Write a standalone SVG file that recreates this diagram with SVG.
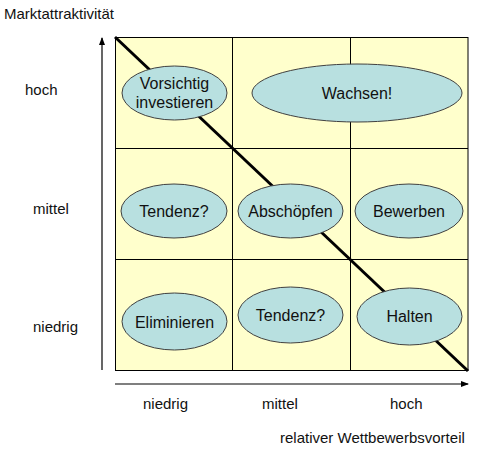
<svg xmlns="http://www.w3.org/2000/svg" width="483" height="451" viewBox="0 0 483 451">
<style>
.cell{fill:#ffffcc;stroke:#000;stroke-width:1}
.node ellipse{fill:#b8e0e0;stroke:#404040;stroke-width:1}
text{font-family:"Liberation Sans",Arial,sans-serif;fill:#111}
.nt{font-size:16px;text-anchor:middle}
.lab{font-size:15px}
.axis{stroke:#000;stroke-width:1.2;fill:none}
</style>
<defs>
<marker id="ah" markerWidth="8" markerHeight="8" refX="7" refY="4" orient="auto" markerUnits="userSpaceOnUse">
<path d="M0,1 L8,4 L0,7 Z" fill="#000"/>
</marker>
</defs>
<rect width="483" height="451" fill="#fff"/>
<g id="grid">
<rect class="cell" x="115.5" y="37.5" width="352.5" height="333"/>
<line x1="232.5" y1="37.5" x2="232.5" y2="370.5" stroke="#000"/>
<line x1="350.5" y1="37.5" x2="350.5" y2="370.5" stroke="#000"/>
<line x1="115.5" y1="148.5" x2="468" y2="148.5" stroke="#000"/>
<line x1="115.5" y1="259.5" x2="468" y2="259.5" stroke="#000"/>
</g>
<g id="connectors">
<line x1="115" y1="37" x2="468" y2="371" stroke="#000" stroke-width="3"/>
<line class="axis" x1="102" y1="370" x2="102" y2="38" marker-end="url(#ah)"/>
<line class="axis" x1="115" y1="384" x2="468" y2="384" marker-end="url(#ah)"/>
</g>
<g id="n-vorsichtig" class="node"><ellipse cx="174.5" cy="93" rx="52.5" ry="27"/><text class="nt" x="174.5" y="89">Vorsichtig</text><text class="nt" x="174.5" y="108">investieren</text></g>
<g id="n-wachsen" class="node"><ellipse cx="357" cy="93" rx="105" ry="29"/><text class="nt" x="357" y="99">Wachsen!</text></g>
<g id="n-tendenz1" class="node"><ellipse cx="174" cy="211" rx="53" ry="27"/><text class="nt" x="174" y="217">Tendenz?</text></g>
<g id="n-abschoepfen" class="node"><ellipse cx="290.5" cy="211" rx="52.5" ry="27"/><text class="nt" x="290.5" y="217">Abschöpfen</text></g>
<g id="n-bewerben" class="node"><ellipse cx="409" cy="211" rx="54" ry="27"/><text class="nt" x="409" y="217">Bewerben</text></g>
<g id="n-eliminieren" class="node"><ellipse cx="174.5" cy="321.5" rx="52.5" ry="28.5"/><text class="nt" x="174.5" y="328">Eliminieren</text></g>
<g id="n-tendenz2" class="node"><ellipse cx="290.5" cy="315" rx="52.5" ry="28"/><text class="nt" x="290.5" y="321">Tendenz?</text></g>
<g id="n-halten" class="node"><ellipse cx="409.5" cy="316.5" rx="52.5" ry="28.5"/><text class="nt" x="409.5" y="322">Halten</text></g>
<g id="labels">
<text class="lab" x="4" y="19">Marktattraktivität</text>
<text class="lab" x="25" y="95">hoch</text>
<text class="lab" x="33" y="214">mittel</text>
<text class="lab" x="33" y="332">niedrig</text>
<text class="lab" x="143" y="409">niedrig</text>
<text class="lab" x="262" y="409">mittel</text>
<text class="lab" x="390" y="409">hoch</text>
<text class="lab" x="280" y="443">relativer Wettbewerbsvorteil</text>
</g>
</svg>
